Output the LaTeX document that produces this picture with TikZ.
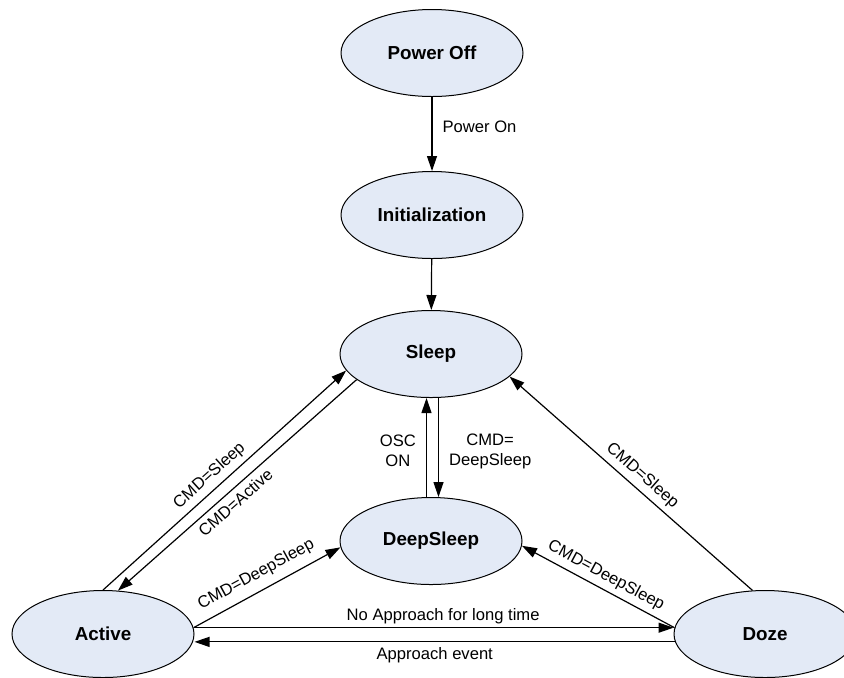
\documentclass[tikz,border=0pt]{standalone}
\usepackage{fontspec}
\setmainfont{Liberation Sans}
\usetikzlibrary{shapes.geometric,arrows.meta}
\definecolor{stfill}{RGB}{227,234,246}

\begin{document}
\begin{tikzpicture}[x=0.5pt,y=-0.5pt,
state/.style={ellipse,draw,line width=0.5pt,fill=stfill,minimum width=91pt,minimum height=43.5pt,inner sep=0pt,font=\fontsize{9.4}{11}\selectfont\bfseries},
tr/.style={-{Triangle[length=7.5pt,width=5pt]},line width=0.6pt},
lbl/.style={font=\fontsize{8.3}{9.7}\selectfont,inner sep=1.5pt},
slant/.style={lbl,sloped,inner sep=2.5pt},
side/.style={lbl,inner sep=5pt,align=center}]
\useasboundingbox (0,0) rectangle (844,677);
\node[state] (off) at (432,53) {Power Off};
\node[state] (ini) at (432,215) {Initialization};
\node[state] (slp) at (431,354) {Sleep};
\node[state] (dps) at (431,541) {DeepSleep};
\node[state] (act) at (103,634) {Active};
\node[state] (doz) at (765,634) {Doze};
\draw[tr] (off) -- node[side,right,pos=0.4]{Power On} (ini);
\draw[tr] (ini) -- (slp);
\draw[tr] ([xshift=-2.25pt]dps.north) -- node[side,left,pos=0.465]{OSC\\ON} ([xshift=-2.25pt]slp.south);
\draw[tr] ([xshift=3.75pt]slp.south) -- node[side,right,pos=0.54]{CMD=\\DeepSleep} ([xshift=3.75pt]dps.north);
\draw[tr] (act.north) -- node[slant,above,pos=0.475]{CMD=Sleep} (slp.191);
\draw[tr] (slp.199) -- node[slant,below,pos=0.54]{CMD=Active} (act.71);
\draw[tr] (act.4) -- node[slant,above,pos=0.48,inner sep=4pt]{CMD=DeepSleep} (dps.184);
\draw[tr] (act.4) -- node[lbl,above,pos=0.52]{No Approach for long time} (act.4 -| doz.west);
\draw[tr] (doz.185) -- node[lbl,below,pos=0.5,inner sep=2.5pt]{Approach event} (doz.185 -| act.east);
\draw[tr] (doz.106) -- node[slant,above,pos=0.49]{CMD=Sleep} (slp.-16);
\draw[tr] (doz.176) -- node[slant,above,pos=0.49]{CMD=DeepSleep} (dps.-3);
\end{tikzpicture}
\end{document}
